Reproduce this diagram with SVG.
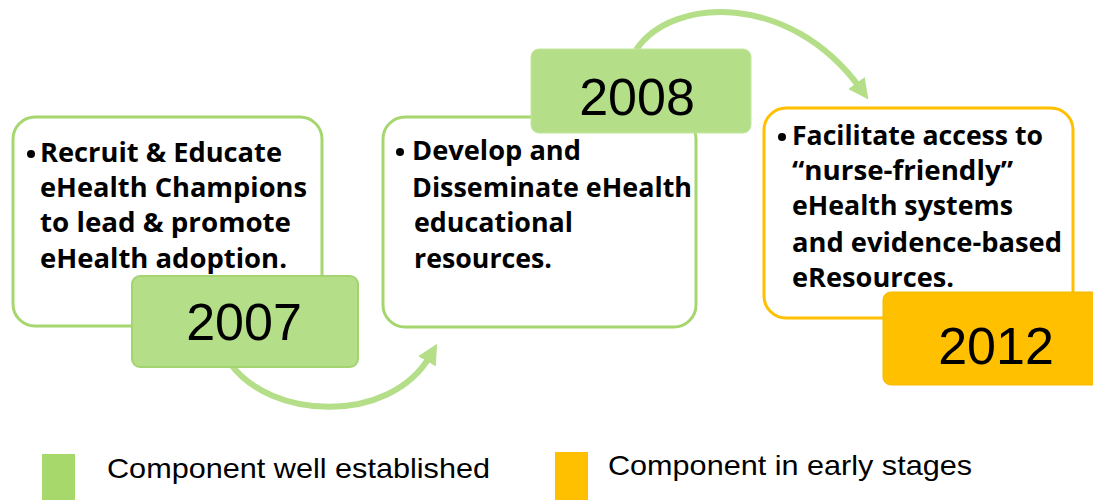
<svg xmlns="http://www.w3.org/2000/svg" width="1093" height="500" viewBox="0 0 1093 500">
<style>
.panel{fill:#fff;stroke-width:3}
.g{stroke:#a6d66e}
.o{stroke:#ffc000}
.yearG{fill:#b4de88;stroke:#a4d472;stroke-width:2}
.yearO{fill:#ffc000;stroke:#f5b800;stroke-width:1}
.yr{font-family:"Liberation Sans",Arial,sans-serif;font-size:52px;fill:#000;text-anchor:middle}
.bt{font-family:"Open Sans","DejaVu Sans",sans-serif;font-weight:bold;font-size:26px;fill:#000}
.lg{font-family:"Liberation Sans",Arial,sans-serif;font-size:28px;fill:#000}
.arr{fill:none;stroke:#b4de88;stroke-width:6}
</style>
<defs>
<marker id="ah" viewBox="0 0 10 10" refX="3" refY="5" markerWidth="3.4" markerHeight="3.4" orient="auto" markerUnits="strokeWidth">
<path d="M0,0 L10,5 L0,10 Z" fill="#b4de88"/>
</marker>
</defs>
<g id="connectors">
<path class="arr" d="M230,363 C270,420 390,425 430,356" marker-end="url(#ah)"/>
<path class="arr" d="M636,50 C672,-4 790,-8 860,88" marker-end="url(#ah)"/>
</g>
<g id="node-2007">
<rect class="panel g" x="13" y="117" width="309" height="209" rx="22"/>
<circle cx="31" cy="154" r="4" fill="#000"/>
<text class="bt" x="40" y="162" textLength="242" lengthAdjust="spacingAndGlyphs">Recruit &amp; Educate</text>
<text class="bt" x="40" y="197" textLength="267" lengthAdjust="spacingAndGlyphs">eHealth Champions</text>
<text class="bt" x="40" y="232" textLength="251" lengthAdjust="spacingAndGlyphs">to lead &amp; promote</text>
<text class="bt" x="40" y="268" textLength="247" lengthAdjust="spacingAndGlyphs">eHealth adoption.</text>
<rect class="yearG" x="132" y="276" width="226" height="91" rx="8"/>
<text class="yr" x="244" y="340">2007</text>
</g>
<g id="node-2008">
<rect class="panel g" x="383" y="117" width="313" height="210" rx="22"/>
<circle cx="400" cy="152" r="4" fill="#000"/>
<text class="bt" x="412" y="160" textLength="169" lengthAdjust="spacingAndGlyphs">Develop and</text>
<text class="bt" x="412" y="197" textLength="280" lengthAdjust="spacingAndGlyphs">Disseminate eHealth</text>
<text class="bt" x="414" y="232" textLength="159" lengthAdjust="spacingAndGlyphs">educational</text>
<text class="bt" x="414" y="268" textLength="138" lengthAdjust="spacingAndGlyphs">resources.</text>
<rect class="yearG" x="531" y="49" width="220" height="84" rx="8" style="stroke:#c4e6a0;stroke-width:1"/>
<text class="yr" x="637" y="115">2008</text>
</g>
<g id="node-2012">
<rect class="panel o" x="764" y="108" width="309" height="210" rx="22"/>
<circle cx="782" cy="137" r="4" fill="#000"/>
<text class="bt" x="792" y="145" textLength="251" lengthAdjust="spacingAndGlyphs">Facilitate access to</text>
<text class="bt" x="792" y="180" textLength="221" lengthAdjust="spacingAndGlyphs">“nurse-friendly”</text>
<text class="bt" x="792" y="215" textLength="221" lengthAdjust="spacingAndGlyphs">eHealth systems</text>
<text class="bt" x="792" y="252" textLength="270" lengthAdjust="spacingAndGlyphs">and evidence-based</text>
<text class="bt" x="792" y="287" textLength="162" lengthAdjust="spacingAndGlyphs">eResources.</text>
<rect class="yearO" x="883" y="292" width="240" height="93" rx="8"/>
<text class="yr" x="996" y="364">2012</text>
</g>
<g id="legend">
<rect x="42" y="454" width="33" height="46" fill="#a6d86c"/>
<text class="lg" x="107" y="478" textLength="383" lengthAdjust="spacingAndGlyphs">Component well established</text>
<rect x="555" y="452" width="33" height="48" fill="#ffc000"/>
<text class="lg" x="608" y="475" textLength="364" lengthAdjust="spacingAndGlyphs">Component in early stages</text>
</g>
</svg>
